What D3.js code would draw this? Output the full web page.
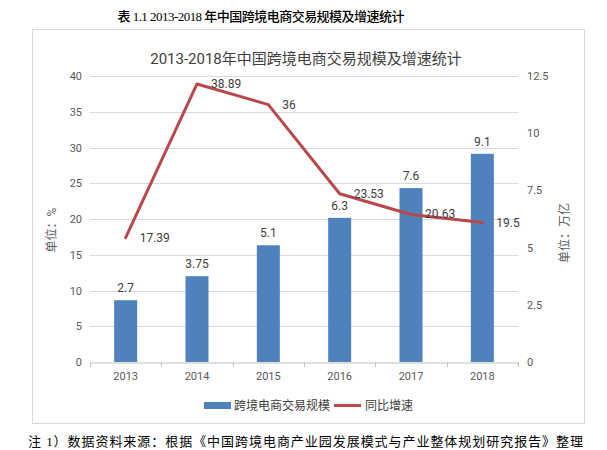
<!DOCTYPE html>
<html><head><meta charset="utf-8">
<script src="https://cdn.jsdelivr.net/npm/d3@7"></script>
<style>body{margin:0;background:#fff}svg{display:block}</style>
</head><body>
<svg id="c" width="607" height="450"></svg>
<script>
const years = ["2013","2014","2015","2016","2017","2018"];
const scaleValues = [2.7, 3.75, 5.1, 6.3, 7.6, 9.1];       // 万亿 (right axis)
const growthValues = [17.39, 38.89, 36, 23.53, 20.63, 19.5]; // % (left axis)
const leftTicks = [0,5,10,15,20,25,30,35,40];
const rightTicks = [0,2.5,5,7.5,10,12.5];
const caption = "表 1.1 2013-2018 年中国跨境电商交易规模及增速统计";
const chartTitle = "2013-2018年中国跨境电商交易规模及增速统计";
const footnote = "注 1）数据资料来源：根据《中国跨境电商产业园发展模式与产业整体规划研究报告》整理";
const legendNames = ["跨境电商交易规模","同比增速"];

const svg = d3.select("#c");
const sans = 'Roboto, "Noto Sans CJK SC", sans-serif';
const serif = '"Liberation Serif", "Noto Sans CJK SC", serif';
const barColor = "#4F81BD", lineColor = "#B9484B";

const x = d3.scaleBand().domain(years).range([90,518]);
const yL = d3.scaleLinear().domain([0,40]).range([362,76]);
const yR = d3.scaleLinear().domain([0,12.5]).range([362,76]);

// caption
svg.append("text").attr("x",261).attr("y",21).attr("text-anchor","middle")
  .attr("font-family",serif).attr("font-size",13).attr("font-weight","500").attr("fill","#000")
  .attr("textLength",287).attr("lengthAdjust","spacing").text(caption);

// frame
svg.append("rect").attr("x",32.5).attr("y",29.5).attr("width",552).attr("height",394)
  .attr("fill","#fff").attr("stroke","#D9D9D9");

// chart title
svg.append("text").attr("x",306).attr("y",64).attr("text-anchor","middle")
  .attr("font-family",sans).attr("font-size",15).attr("fill","#404040").text(chartTitle);

// gridlines
svg.append("g").selectAll("line").data(leftTicks.filter(d=>d>0)).join("line")
  .attr("x1",90).attr("x2",518).attr("y1",d=>Math.round(yL(d))+0.5).attr("y2",d=>Math.round(yL(d))+0.5)
  .attr("stroke","#D9D9D9");

// x axis
const xAxis = d3.axisBottom(x).tickSize(0).tickPadding(10);
const gx = svg.append("g").attr("transform","translate(0,362.5)").call(xAxis);
gx.select(".domain").attr("stroke","#BFBFBF");
gx.selectAll("text").attr("font-family",sans).attr("font-size",11).attr("fill","#595959");
// category boundary ticks
svg.append("g").selectAll("line").data(years.concat(["end"])).join("line")
  .attr("x1",(d,i)=>Math.round(90+i*x.step())+0.5).attr("x2",(d,i)=>Math.round(90+i*x.step())+0.5)
  .attr("y1",362).attr("y2",367).attr("stroke","#BFBFBF");

// left axis
const gl = svg.append("g").attr("transform","translate(90,0)")
  .call(d3.axisLeft(yL).tickValues(leftTicks).tickFormat(d3.format("")).tickSize(0).tickPadding(8));
gl.select(".domain").remove();
gl.selectAll("text").attr("font-family",sans).attr("font-size",11).attr("fill","#595959");

// right axis
const gr = svg.append("g").attr("transform","translate(518,0)")
  .call(d3.axisRight(yR).tickValues(rightTicks).tickFormat(d3.format("")).tickSize(0).tickPadding(9));
gr.select(".domain").remove();
gr.selectAll("text").attr("font-family",sans).attr("font-size",11).attr("fill","#595959");

// axis titles
svg.append("text").attr("transform","translate(56,230) rotate(-90)").attr("text-anchor","middle")
  .attr("font-family",sans).attr("font-size",12).attr("fill","#595959").text("单位：%");
svg.append("text").attr("transform","translate(569,233) rotate(-90)").attr("text-anchor","middle")
  .attr("font-family",sans).attr("font-size",12).attr("fill","#595959").text("单位：万亿");

// bars
const bw = 23;
svg.append("g").selectAll("rect").data(years).join("rect")
  .attr("x",(d)=>x(d)+x.bandwidth()/2-bw/2).attr("width",bw)
  .attr("y",(d,i)=>yR(scaleValues[i])).attr("height",(d,i)=>yR(0)-yR(scaleValues[i]))
  .attr("fill",barColor);
svg.append("g").selectAll("text").data(years).join("text")
  .attr("x",d=>x(d)+x.bandwidth()/2).attr("y",(d,i)=>yR(scaleValues[i])-8)
  .attr("text-anchor","middle").attr("font-family",sans).attr("font-size",12).attr("fill","#404040")
  .text((d,i)=>scaleValues[i]);

// line
const line = d3.line().x((d,i)=>x(years[i])+x.bandwidth()/2).y(d=>yL(d));
svg.append("path").datum(growthValues).attr("d",line).attr("fill","none")
  .attr("stroke",lineColor).attr("stroke-width",3).attr("stroke-linejoin","round").attr("stroke-linecap","round");
svg.append("g").selectAll("text").data(growthValues).join("text")
  .attr("x",(d,i)=>x(years[i])+x.bandwidth()/2+14).attr("y",d=>yL(d)+4)
  .attr("font-family",sans).attr("font-size",12).attr("fill","#404040").text(d=>d);

// legend
svg.append("rect").attr("x",204).attr("y",402).attr("width",27).attr("height",7).attr("fill",barColor);
svg.append("text").attr("x",234).attr("y",410).attr("font-family",sans).attr("font-size",12)
  .attr("fill","#404040").text(legendNames[0]);
svg.append("line").attr("x1",334).attr("x2",361).attr("y1",405.5).attr("y2",405.5)
  .attr("stroke",lineColor).attr("stroke-width",3);
svg.append("text").attr("x",365).attr("y",410).attr("font-family",sans).attr("font-size",12)
  .attr("fill","#404040").text(legendNames[1]);

// footnote
svg.append("text").attr("x",28).attr("y",446)
  .attr("font-family",serif).attr("font-size",13).attr("fill","#000")
  .attr("textLength",555).attr("lengthAdjust","spacing").text(footnote);
</script>
</body></html>
